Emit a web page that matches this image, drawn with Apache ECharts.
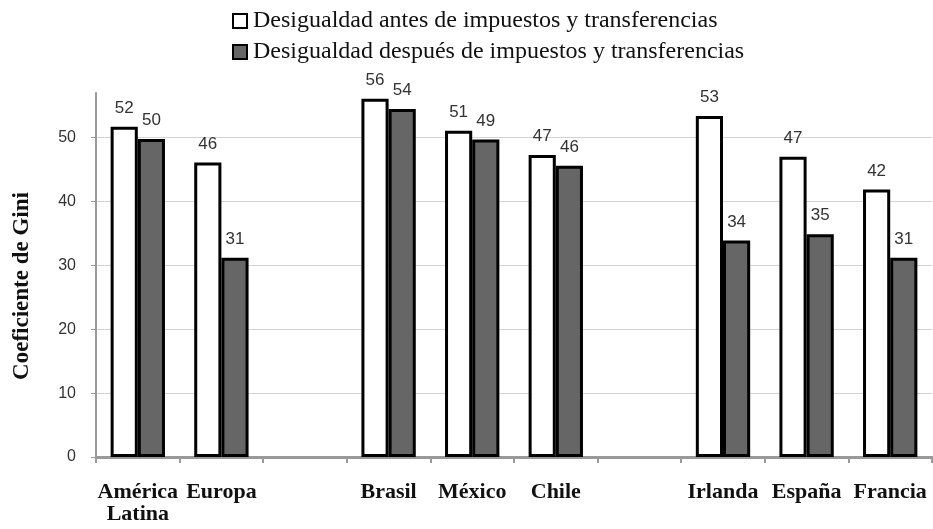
<!DOCTYPE html>
<html>
<head>
<meta charset="utf-8">
<script src="https://cdn.jsdelivr.net/npm/echarts@6/dist/echarts.min.js"></script>
<style>
  html, body { margin: 0; padding: 0; background: #fff; }
  #chart { width: 933px; height: 529px; }
</style>
</head>
<body>
<div id="chart"></div>
<script>
// países (las posiciones vacías separan los grupos)
const categories = ['América\nLatina', 'Europa', '', 'Brasil', 'México', 'Chile', '', 'Irlanda', 'España', 'Francia']

// coeficiente de Gini
const antes = [51.7, 46.1, '-', 56.1, 51.1, 47.3, '-', 53.4, 47.0, 41.9]
const despues = [49.8, 31.2, '-', 54.5, 49.7, 45.6, '-', 33.9, 34.9, 31.2]

// etiquetas tal como aparecen impresas
const antesLabels = ['52', '46', '', '56', '51', '47', '', '53', '47', '42']
const despuesLabels = ['50', '31', '', '54', '49', '46', '', '34', '35', '31']

const seriesNames = [
  'Desigualdad antes de impuestos y transferencias',
  'Desigualdad después de impuestos y transferencias'
]

const chart = echarts.init(document.getElementById('chart'))

const labelStyle = {
  show: true,
  position: 'top',
  distance: 10,
  color: '#333',
  fontSize: 17,
  fontFamily: 'Liberation Sans, Arial, sans-serif'
}

const option = {
  animation: false,
  legend: {
    orient: 'vertical',
    left: 227,
    top: 4,
    icon: 'rect',
    itemWidth: 14,
    itemHeight: 14,
    itemGap: 7,
    itemStyle: { borderWidth: 2 },
    textStyle: {
      color: '#111',
      fontSize: 24,
      padding: [0, 0, 0, 1],
      fontFamily: 'Liberation Serif, Times New Roman, serif'
    },
    data: seriesNames
  },
  grid: { left: 96, right: 1, top: 93, bottom: 72, outerBoundsMode: 'none' },
  xAxis: {
    type: 'category',
    data: categories,
    axisLine: { lineStyle: { color: '#999', width: 3 } },
    axisTick: { show: true, length: 6, lineStyle: { color: '#999', width: 2 } },
    axisLabel: {
      interval: 0,
      margin: 24,
      color: '#111',
      fontSize: 22,
      fontWeight: 'bold',
      lineHeight: 22,
      fontFamily: 'Liberation Serif, Times New Roman, serif'
    }
  },
  yAxis: {
    type: 'value',
    min: 0,
    max: 57,
    interval: 10,
    name: 'Coeficiente de Gini',
    nameLocation: 'middle',
    nameGap: 62,
    nameRotate: 90,
    nameTextStyle: {
      color: '#111',
      fontSize: 23,
      fontWeight: 'bold',
      padding: [0, 22, 0, 0],
      fontFamily: 'Liberation Serif, Times New Roman, serif'
    },
    axisLine: { show: true, lineStyle: { color: '#999', width: 2 } },
    axisTick: { show: true, length: 5, lineStyle: { color: '#999' } },
    axisLabel: {
      showMaxLabel: false,
      margin: 20,
      color: '#333',
      fontSize: 16,
      fontFamily: 'Liberation Sans, Arial, sans-serif'
    },
    splitLine: { showMaxLine: false, lineStyle: { color: '#d4d4d4', width: 1 } }
  },
  series: [
    {
      name: seriesNames[0],
      type: 'bar',
      data: antes,
      barGap: '0%',
      barCategoryGap: '35%',
      itemStyle: { color: '#fff', borderColor: '#000', borderWidth: 3 },
      label: { ...labelStyle, formatter: p => antesLabels[p.dataIndex] }
    },
    {
      name: seriesNames[1],
      type: 'bar',
      data: despues,
      barGap: '0%',
      barCategoryGap: '35%',
      itemStyle: { color: '#666', borderColor: '#000', borderWidth: 3 },
      label: { ...labelStyle, formatter: p => despuesLabels[p.dataIndex] }
    }
  ]
}

chart.setOption(option)
</script>
</body>
</html>
